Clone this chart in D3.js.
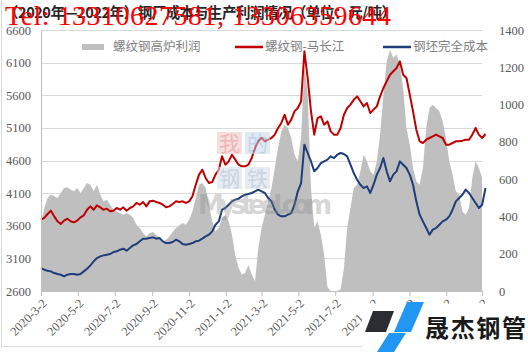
<!DOCTYPE html>
<html>
<head>
<meta charset="utf-8">
<script src="https://cdn.jsdelivr.net/npm/d3@7"></script>
<style>
    body { margin: 0; background: #fff; }
    svg { display: block; }
</style>
</head>
<body>
<div id="chart"></div>
<script>

// data, one point about every 5.45 days from 2020-3-2
const startDate = "2020-3-2";
const stepDays = 5.45;

// 螺纹钢-马长江 (left axis)
const rebarPrice = [
    3693,3719,3780,3831,3744,3668,3627,3678,3708,3668,3652,3678,3729,3760,3846,3897,3846,3913,3882,3846,3862,3821,
    3831,3872,3846,3882,3831,3872,3897,3949,3923,3964,3897,3974,3984,3964,3949,3923,3882,3897,3933,3974,3964,3974,
    3949,3974,4051,4229,4383,4459,4332,4255,4270,4383,4459,4664,4536,4587,4689,4613,4536,4510,4510,4536,4638,4791,
    4894,4945,4894,4919,4945,4996,5098,5175,5302,5149,5226,5353,5404,5507,6273,5864,5353,4996,5251,5277,5149,5200,5047,
    4996,4996,5098,5302,5404,5456,5532,5583,5507,5430,5481,5328,5379,5430,5583,5711,5813,5915,5967,6018,6120,5915,
    5864,5609,5353,5072,4894,4868,4919,4945,4970,4996,4970,4945,4843,4843,4868,4894,4894,4904,4919,4919,4996,5098,
    4996,4945,5006
];

// 钢坯完全成本 (left axis)
const billetCost = [
    2952,2926,2911,2901,2875,2860,2850,2824,2850,2860,2860,2850,2860,2901,2942,2993,3054,3105,3131,3146,3156,3167,
    3197,3208,3233,3248,3218,3259,3300,3320,3361,3402,3402,3412,3422,3402,3412,3361,3335,3335,3351,3386,3361,3320,
    3310,3320,3335,3361,3371,3402,3437,3463,3514,3616,3667,3846,3872,3923,3974,4000,4015,4051,4076,4086,4102,4127,
    4153,4127,4102,4025,3974,3846,3770,3744,3744,3770,3795,3923,4127,4255,4843,4715,4587,4434,4485,4561,4587,4613,4664,
    4638,4689,4715,4699,4664,4536,4408,4306,4229,4178,4204,4102,4229,4383,4485,4638,4434,4281,4383,4434,4587,4536,
    4485,4383,4229,3974,3770,3667,3565,3463,3540,3565,3616,3667,3693,3744,3846,3974,4025,4076,4153,4102,4025,3949,
    3872,3923,4178
];

// 螺纹钢高炉利润 (right axis)
const bfProfit = [
    365,445,499,517,508,499,526,552,556,544,535,552,526,552,579,570,535,570,517,481,490,463,
    436,427,418,409,418,409,391,356,338,311,293,311,316,302,288,266,275,293,316,338,352,365,
    356,383,427,499,570,579,552,463,374,320,338,391,409,374,302,195,123,88,97,141,88,52,
    230,338,409,481,552,660,767,856,892,874,821,731,696,821,1214,1053,552,338,374,302,195,20,0,
    0,0,10,120,338,445,552,570,642,731,696,642,624,696,839,1053,1232,1294,1250,1268,1214,1089,
    874,785,660,588,570,660,874,982,999,982,964,910,821,696,624,535,517,427,409,445,606,696,
    660,606,517
];

const xTickLabels = ["2020-3-2", "2020-5-2", "2020-7-2", "2020-9-2", "2020-11-2", "2021-1-2", "2021-3-2",
    "2021-5-2", "2021-7-2", "2021-9-2", "2021-11-2", "2022-1-2", "2022-3-2"];
const leftTicks = [2600, 3100, 3600, 4100, 4600, 5100, 5600, 6100, 6600];
const rightTicks = [0, 200, 400, 600, 800, 1000, 1200, 1400];
const seriesNames = ["螺纹钢高炉利润", "螺纹钢-马长江", "钢坯完全成本"];

const chartTitle = "（2020年—2022年）钢厂成本与生产利润情况（单位：元/吨）";
const telText = "Tel: 13310627581, 13306359644";
const logoText = "晟杰钢管";


class CostProfitChart {

    constructor(parentElement) {
        this.parentElement = parentElement;
        this.initVis();
    }

    initVis() {
        let vis = this;

        vis.margin = {top: 30, right: 46, bottom: 61, left: 41};
        vis.width = 528 - vis.margin.left - vis.margin.right;
        vis.height = 352 - vis.margin.top - vis.margin.bottom;

        vis.root = d3.select("#" + vis.parentElement).append("svg")
            .attr("width", 528)
            .attr("height", 352);

        // light frame round the chart
        vis.root.append("path")
            .attr("d", "M1.5,0 V346.5 H540")
            .attr("fill", "none")
            .attr("stroke", "#d9d9d9");

        vis.svg = vis.root.append("g")
            .attr("transform", "translate(" + vis.margin.left + "," + vis.margin.top + ")");

        // scales
        vis.x = d3.scaleTime().range([0, vis.width]);
        vis.yLeft = d3.scaleLinear().domain([2600, 6600]).range([vis.height, 0]);
        vis.yRight = d3.scaleLinear().domain([0, 1400]).range([vis.height, 0]);

        vis.svg.append("clipPath")
            .attr("id", "plot-clip")
            .append("rect")
            .attr("width", vis.width)
            .attr("height", vis.height);

        vis.wrangleData();
    }

    wrangleData() {
        let vis = this;

        let parse = d3.timeParse("%Y-%m-%d");
        let start = parse(startDate);

        vis.displayData = rebarPrice.map((d, i) => ({
            date: d3.timeHour.offset(start, Math.round(i * stepDays * 24)),
            rebar: d,
            billet: billetCost[i],
            profit: bfProfit[i]
        }));

        vis.tickDates = xTickLabels.map(parse);
        vis.x.domain([vis.tickDates[0], vis.tickDates[vis.tickDates.length - 1]]);

        vis.updateVis();
    }

    updateVis() {
        let vis = this;

        // gridlines
        vis.svg.selectAll("line.grid")
            .data(leftTicks)
            .enter()
            .append("line")
            .attr("class", "grid")
            .attr("x1", 0)
            .attr("x2", vis.width)
            .attr("y1", d => Math.round(vis.yLeft(d)) + 0.5)
            .attr("y2", d => Math.round(vis.yLeft(d)) + 0.5)
            .attr("stroke", "#d9d9d9");

        // profit area
        let area = d3.area()
            .x(d => vis.x(d.date))
            .y0(vis.height)
            .y1(d => vis.yRight(d.profit));

        vis.svg.append("path")
            .datum(vis.displayData)
            .attr("clip-path", "url(#plot-clip)")
            .attr("d", area)
            .attr("fill", "#bfbfbf");

        // lines
        let rebarLine = d3.line()
            .x(d => vis.x(d.date))
            .y(d => vis.yLeft(d.rebar));
        let billetLine = d3.line()
            .x(d => vis.x(d.date))
            .y(d => vis.yLeft(d.billet));

        vis.svg.append("path")
            .datum(vis.displayData)
            .attr("d", rebarLine)
            .attr("fill", "none")
            .attr("stroke", "#c00000")
            .attr("stroke-width", 2)
            .attr("stroke-linejoin", "round");

        vis.svg.append("path")
            .datum(vis.displayData)
            .attr("d", billetLine)
            .attr("fill", "none")
            .attr("stroke", "#1f3d7a")
            .attr("stroke-width", 2)
            .attr("stroke-linejoin", "round");

        // axes
        let xAxis = d3.axisBottom(vis.x)
            .tickValues(vis.tickDates)
            .tickFormat((d, i) => xTickLabels[i])
            .tickSize(5)
            .tickSizeOuter(0);

        let gx = vis.svg.append("g")
            .attr("class", "x-axis axis")
            .attr("transform", "translate(0," + vis.height + ")")
            .call(xAxis);
        gx.select(".domain").attr("stroke", "#bfbfbf");
        gx.selectAll(".tick line").attr("stroke", "#bfbfbf");
        gx.selectAll("text")
            .attr("x", 0)
            .attr("y", 0)
            .attr("dy", "0.35em")
            .attr("transform", "translate(3,10) rotate(-45)")
            .style("text-anchor", "end")
            .style("font-family", "'Liberation Serif', serif")
            .style("font-size", "12.5px")
            .attr("fill", "#595959");

        let numFormat = d3.format("d");

        let yAxisLeft = d3.axisLeft(vis.yLeft)
            .tickValues(leftTicks)
            .tickFormat(numFormat)
            .tickSize(0)
            .tickPadding(10)
            .tickSizeOuter(0);
        let gyl = vis.svg.append("g")
            .attr("class", "y-axis axis")
            .call(yAxisLeft);
        gyl.select(".domain").attr("stroke", "#bfbfbf");
        gyl.selectAll("text")
            .style("font-family", "'Liberation Serif', serif")
            .style("font-size", "12.5px")
            .attr("fill", "#595959");

        let yAxisRight = d3.axisRight(vis.yRight)
            .tickValues(rightTicks)
            .tickFormat(numFormat)
            .tickSize(0)
            .tickPadding(17)
            .tickSizeOuter(0);
        let gyr = vis.svg.append("g")
            .attr("class", "y-axis-right axis")
            .attr("transform", "translate(" + vis.width + ",0)")
            .call(yAxisRight);
        gyr.select(".domain").remove();
        gyr.selectAll("text")
            .style("font-family", "'Liberation Serif', serif")
            .style("font-size", "12.5px")
            .attr("fill", "#595959");

        // legend
        let legend = vis.svg.append("g")
            .attr("transform", "translate(0,17)");
        let legendItems = [
            {x: 41, type: "rect", color: "#bfbfbf"},
            {x: 194, type: "line", color: "#c00000"},
            {x: 342, type: "line", color: "#1f3d7a"}
        ];
        legendItems.forEach((item, i) => {
            if (item.type === "rect") {
                legend.append("rect")
                    .attr("x", item.x).attr("y", -3)
                    .attr("width", 22).attr("height", 6)
                    .attr("fill", item.color);
            } else {
                legend.append("line")
                    .attr("x1", item.x).attr("x2", item.x + 28)
                    .attr("y1", 0).attr("y2", 0)
                    .attr("stroke", item.color)
                    .attr("stroke-width", 2.5);
            }
            legend.append("text")
                .attr("x", item.x + (item.type === "rect" ? 31 : 30))
                .attr("y", 0)
                .attr("dy", "0.35em")
                .style("font-family", "'Noto Sans CJK SC', sans-serif")
                .style("font-size", "12.5px")
                .attr("fill", "#7f7f7f")
                .text(seriesNames[i]);
        });

        vis.drawOverlays();
    }

    drawOverlays() {
        let vis = this;
        let root = vis.root;

        // mysteel watermark
        let wm = root.append("g").attr("opacity", 0.55);
        let boxes = [
            {x: 217, y: 132, ch: "我", fill: "#f2c4c4", ink: "#e07a7a"},
            {x: 245, y: 132, ch: "的", fill: "#c9d9ea", ink: "#8fb0d3"},
            {x: 217, y: 167, ch: "钢", fill: "#d3dde8", ink: "#9bb1c9"},
            {x: 245, y: 167, ch: "铁", fill: "#d3dde8", ink: "#9bb1c9"}
        ];
        boxes.forEach(b => {
            wm.append("rect")
                .attr("x", b.x).attr("y", b.y)
                .attr("width", 25).attr("height", 22)
                .attr("fill", b.fill);
            wm.append("text")
                .attr("x", b.x + 12.5).attr("y", b.y + 19)
                .attr("text-anchor", "middle")
                .style("font-family", "'Noto Sans CJK SC', sans-serif")
                .style("font-size", "21px")
                .attr("fill", b.ink)
                .text(b.ch);
        });
        root.append("text")
            .attr("x", 198).attr("y", 214)
            .attr("textLength", 134)
            .style("font-family", "'DejaVu Sans', sans-serif")
            .style("font-size", "26px")
            .style("font-weight", "bold")
            .attr("fill", "#8c8c8c")
            .attr("opacity", 0.35)
            .text("Mysteel.com");

        // title and phone overlay
        root.append("text")
            .attr("x", 4).attr("y", 18)
            .attr("textLength", 392)
            .style("font-family", "'Noto Sans CJK SC', sans-serif")
            .style("font-size", "14.5px")
            .style("font-weight", "bold")
            .attr("fill", "#262626")
            .text(chartTitle);

        root.append("text")
            .attr("x", 5).attr("y", 25)
            .attr("textLength", 386)
            .style("font-family", "'Liberation Serif', serif")
            .style("font-size", "28px")
            .attr("fill", "#ff0000")
            .text(telText);

        // logo box, bottom right
        let logo = root.append("g");
        logo.append("rect")
            .attr("x", 362).attr("y", 304)
            .attr("width", 166).attr("height", 48)
            .attr("fill", "#fff");
        logo.append("polygon")
            .attr("points", "373,311 394,311 386,332 365,332")
            .attr("fill", "#2b2d33");
        logo.append("polygon")
            .attr("points", "407,302 424,302 411,332 394,332")
            .attr("fill", "#2196f3");
        logo.append("polygon")
            .attr("points", "389,333 406,333 394,352 377,352")
            .attr("fill", "#2196f3");
        logo.append("text")
            .attr("x", 425).attr("y", 337)
            .attr("textLength", 101)
            .style("font-family", "'Noto Sans CJK SC', sans-serif")
            .style("font-size", "24px")
            .style("font-weight", "bold")
            .attr("fill", "#1a1a1a")
            .text(logoText);
    }
}

new CostProfitChart("chart");

</script>
</body>
</html>
